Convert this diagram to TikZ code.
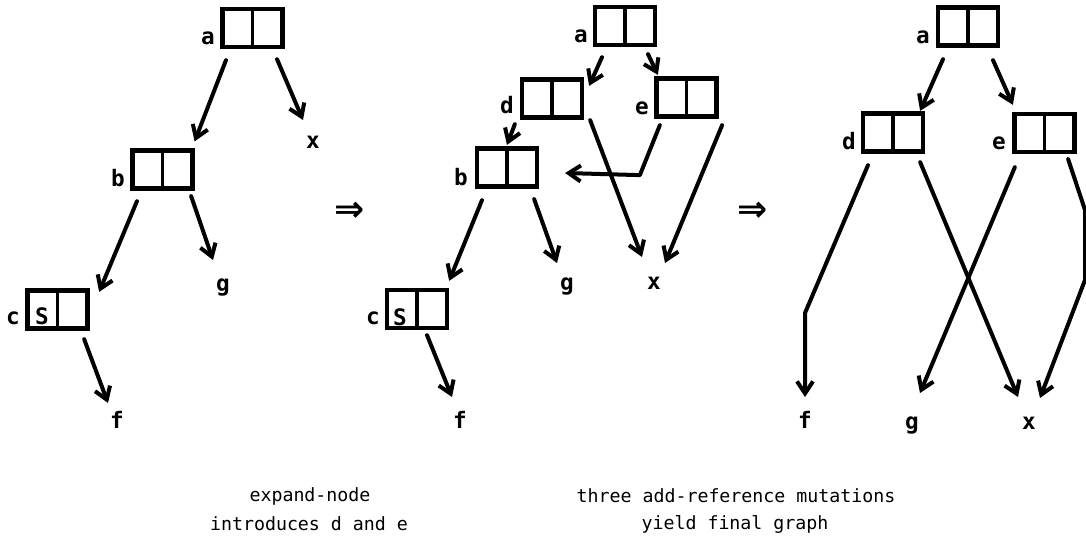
\documentclass[tikz,border=0pt]{standalone}
\usepackage{fontspec}
\setmonofont{DejaVu Sans Mono}
\newfontfamily\djsans{DejaVu Sans}
\usetikzlibrary{arrows.meta,calc}
\tikzset{
  box/.style={draw, line width=3.2pt, minimum width=45pt, minimum height=28.5pt, inner sep=0pt,
    path picture={\draw[line width=2.8pt] (path picture bounding box.north) -- (path picture bounding box.south);}},
  lbl/.style={inner sep=0pt, font=\fontsize{17}{17}\ttfamily\bfseries},
  captxt/.style={inner sep=0pt, font=\fontsize{13.7}{13.7}\ttfamily},
  imp/.style={inner sep=0pt, font=\fontsize{27}{27}\djsans\bfseries},
  ref/.style={line width=3pt, line cap=round, line join=round, -{Straight Barb[length=9pt,width=12pt]}},
}
\begin{document}
\begin{tikzpicture}[x=0.75pt,y=-0.75pt]
\useasboundingbox (0,0) rectangle (1086,545);
% ---------- panel 1 ----------
\node[box] (a1) at (252.5,28) {};
\node[box] (b1) at (162.5,169.5) {};
\node[box] (c1) at (57.5,309.5) {};
\node[lbl] (la1) at (208,38) {a};
\node[lbl] (lb1) at (118,178) {b};
\node[lbl] (lc1) at (13,318) {c};
\node[lbl] (s1) at (42,316) {S};
\node[lbl] (x1) at (313,142) {x};
\node[lbl] (g1) at (223,287) {g};
\node[lbl] (f1) at (117,420) {f};
\draw[ref] ($(a1.south)+(-26.5,11)$) -- ($(b1.north east)+(0,-7)$);
\draw[ref] ($(a1.south)+(24.5,10)$) -- ($(x1)+(-10,-22)$);
\draw[ref] ($(b1.south)+(-25.5,10.5)$) -- ($(c1.north east)+(9.5,3.5)$);
\draw[ref] ($(b1.south east)+(-3.5,5.5)$) -- ($(g1)+(-10,-27)$);
\draw[ref] ($(c1.south east)+(-5.5,8.5)$) -- ($(f1)+(-9,-17)$);
\node[imp] (imp1) at (350,212) {⇒};
% ---------- panel 2 ----------
\node[box] (a2) at (625,26) {};
\node[box] (d2) at (552,98.5) {};
\node[box] (e2) at (686.5,97.5) {};
\node[box] (b2) at (507,167.5) {};
\node[box] (c2) at (417,309) {};
\node[lbl] (la2) at (581,36) {a};
\node[lbl] (ld2) at (507,105) {d};
\node[lbl] (le2) at (642,108) {e};
\node[lbl] (lb2) at (461,177) {b};
\node[lbl] (lc2) at (373,318) {c};
\node[lbl] (s2) at (400,317) {S};
\node[lbl] (g2) at (567,286) {g};
\node[lbl] (x2) at (654,283) {x};
\node[lbl] (f2) at (460,420) {f};
\draw[ref] ($(a2.south)+(-23,10)$) -- ($(d2.north east)+(5,8.5)$);
\draw[ref] ($(a2.south)+(23,7)$) -- ($(e2.north west)+(3.5,-1.5)$);
\draw[ref] ($(d2.south west)+(-5,4.5)$) -- ($(b2.north)+(0,-1.5)$);
\draw[ref] ($(d2.south east)+(6,0.5)$) -- ($(x2)+(-12,-26)$);
\draw[ref] ($(e2.south west)+(5.5,6.5)$) -- ++(-20,50) -- ($(b2.east)+(26,5.5)$);
\draw[ref] ($(e2.south east)+(3.5,6.5)$) -- ($(x2)+(11,-20)$);
\draw[ref] ($(b2.south)+(-25,11.5)$) -- ($(c2.north east)+(0,-7)$);
\draw[ref] ($(b2.south east)+(-5,10.5)$) -- ($(g2)+(-10,-23)$);
\draw[ref] ($(c2.south)+(10,5)$) -- ($(f2)+(-8,-23)$);
\node[imp] (imp2) at (753,212) {⇒};
% ---------- panel 3 ----------
\node[box] (a3) at (968,26.5) {};
\node[box] (d3) at (893,132.5) {};
\node[box] (e3) at (1044.5,133) {};
\node[lbl] (la3) at (923,37) {a};
\node[lbl] (ld3) at (849,141) {d};
\node[lbl] (le3) at (999,143) {e};
\node[lbl] (f3) at (805,420) {f};
\node[lbl] (g3) at (912,425) {g};
\node[lbl] (x3) at (1029,423) {x};
\draw[ref] ($(a3.south)+(-25,11.5)$) -- ($(d3.north east)+(-5,-0.5)$);
\draw[ref] ($(a3.south)+(25,12.5)$) -- ($(e3.north west)+(0.5,-7)$);
\draw[ref] ($(d3.south)+(-25,11.5)$) -- ($(f3)+(0,-107)$) -- ($(f3)+(0,-23)$);
\draw[ref] ($(d3.south east)+(-5,8.5)$) -- ($(x3)+(-11,-26)$);
\draw[ref] ($(e3.south west)+(2.5,13)$) -- ($(g3)+(8,-32)$);
\draw[ref] ($(e3.south east)+(-8.5,5)$) -- ($(x3)+(56,-213)$) -- ($(x3)+(56,-143)$) -- ($(x3)+(11,-25)$);
% ---------- captions ----------
\node[captxt] (c1a) at (310,496) {expand-node};
\node[captxt] (c1b) at (309,524) {introduces d and e};
\node[captxt] (c2a) at (736,496) {three add-reference mutations};
\node[captxt] (c2b) at (735,524) {yield final graph};
\end{tikzpicture}
\end{document}
